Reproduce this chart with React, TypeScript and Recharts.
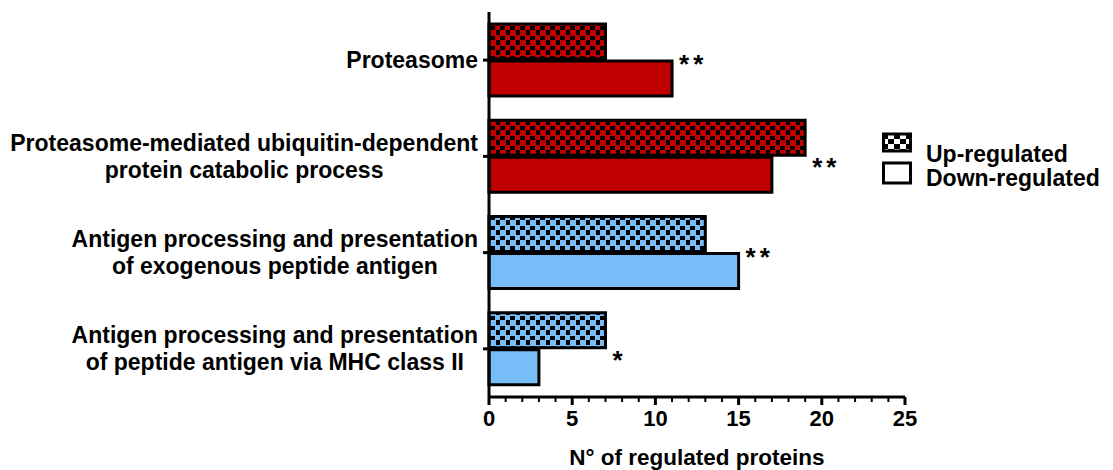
import { Bar, BarChart, Cell, Label, LabelList, XAxis, YAxis } from "recharts";

const categories = [
  "Proteasome",
  "Proteasome-mediated ubiquitin-dependent\nprotein catabolic process",
  "Antigen processing and presentation\nof exogenous peptide antigen",
  "Antigen processing and presentation\nof peptide antigen via MHC class II",
];
const upRegulated = [7, 19, 13, 7];
const downRegulated = [11, 17, 15, 3];
const significance = ["**", "**", "**", "*"];
const seriesNames = ["Up-regulated", "Down-regulated"];
const xTicks = [0, 1, 2, 3, 4, 5, 6, 7, 8, 9, 10, 11, 12, 13, 14, 15, 16, 17, 18, 19, 20, 21, 22, 23, 24, 25];
const xMajorTicks = [0, 5, 10, 15, 20, 25];
const xTitle = "N° of regulated proteins";

const FONT = '"Liberation Sans", Arial, sans-serif';
const RED = "#C00000";
const BLUE = "#77BDF8";
const groupColor = ["red", "red", "blue", "blue"];

const data = categories.map((name, i) => ({
  name,
  up: upRegulated[i],
  down: downRegulated[i],
}));

const ctx = document.createElement("canvas").getContext("2d");
function textWidth(s: string) {
  if (!ctx) return s.length * 11;
  ctx.font = `bold 23px ${FONT}`;
  return ctx.measureText(s).width;
}

function CategoryTick(props: any) {
  const { x, y, payload } = props;
  const lines = String(payload.value).split("\n");
  const w = Math.max(...lines.map(textWidth));
  const cx = x - w / 2;
  const top = y - (lines.length - 1) * 13.5;
  return (
    <g>
      {lines.map((l, i) => (
        <text
          key={i}
          x={cx}
          y={top + i * 27 + 8}
          textAnchor="middle"
          fontFamily={FONT}
          fontWeight="bold"
          fontSize={23}
          fill="#000"
        >
          {l}
        </text>
      ))}
    </g>
  );
}

function CountTick(props: any) {
  const { x, y, payload } = props;
  const major = xMajorTicks.includes(payload.value);
  return (
    <g>
      <line x1={x} x2={x} y1={y} y2={y + (major ? 8 : 5)} stroke="#000" strokeWidth={major ? 3 : 2} />
      {major && (
        <text x={x} y={y + 29} textAnchor="middle" fontFamily={FONT} fontWeight="bold" fontSize={22} fill="#000">
          {payload.value}
        </text>
      )}
    </g>
  );
}

// stars sit beside whichever bar of the pair is longer
const makeStar = (series: "up" | "down") => (props: any) => {
  const { x, y, width, height, index } = props;
  const longer = upRegulated[index] >= downRegulated[index] ? "up" : "down";
  if (longer !== series) return null;
  const cy = series === "up" ? y + height + 6 : y - 3;
  return (
    <text
      key={`star-${series}-${index}`}
      x={x + width + 7}
      y={cy + 15}
      fontFamily={FONT}
      fontWeight="bold"
      fontSize={26}
      letterSpacing={4}
      fill="#000"
    >
      {significance[index]}
    </text>
  );
};

function LegendBox() {
  return (
    <svg width={229} height={62} style={{ display: "block" }}>
      <defs>
        <pattern id="chk-bw" width="12" height="10" patternUnits="userSpaceOnUse">
          <rect width="12" height="10" fill="#000" />
          <rect x="0" y="0" width="6" height="5" fill="#fff" />
          <rect x="6" y="5" width="6" height="5" fill="#fff" />
        </pattern>
      </defs>
      <rect x={1.5} y={5} width={27} height={17} fill="url(#chk-bw)" stroke="#000" strokeWidth={3} />
      <rect x={1.5} y={34} width={27} height={20} fill="#fff" stroke="#000" strokeWidth={3} />
      <text x={44} y={33} fontFamily={FONT} fontWeight="bold" fontSize={23} fill="#000">
        {seriesNames[0]}
      </text>
      <text x={44} y={57} fontFamily={FONT} fontWeight="bold" fontSize={23} fill="#000">
        {seriesNames[1]}
      </text>
    </svg>
  );
}

export default function App() {
  return (
    <div style={{ position: "absolute", left: 0, top: 0, width: 1113, height: 470, background: "#fff" }}>
      <BarChart
        width={1113}
        height={470}
        data={data}
        layout="vertical"
        margin={{ top: 12, right: 208, bottom: 0, left: 0 }}
        barCategoryGap="12.5%"
        barGap={2}
      >
        <defs>
          <pattern id="chk-red" width="10" height="10" patternUnits="userSpaceOnUse">
            <rect width="10" height="10" fill="#000" />
            <rect x="0" y="0" width="6" height="6" fill={RED} />
            <rect x="5" y="5" width="5" height="5" fill={RED} />
          </pattern>
          <pattern id="chk-blue" width="10" height="10" patternUnits="userSpaceOnUse">
            <rect width="10" height="10" fill="#000" />
            <rect x="0" y="0" width="6" height="6" fill={BLUE} />
            <rect x="5" y="5" width="5" height="5" fill={BLUE} />
          </pattern>
        </defs>
        <XAxis
          type="number"
          domain={[0, 25]}
          ticks={xTicks}
          interval={0}
          height={73}
          tickSize={0}
          tickMargin={0}
          tickLine={false}
          axisLine={{ stroke: "#000", strokeWidth: 3 }}
          tick={<CountTick />}
        >
          <Label
            value={xTitle}
            position="insideBottom"
            offset={5}
            style={{ fontFamily: FONT, fontWeight: "bold", fontSize: 22.5, fill: "#000" }}
          />
        </XAxis>
        <YAxis
          type="category"
          dataKey="name"
          width={489}
          tickSize={6}
          tickMargin={5}
          interval={0}
          axisLine={{ stroke: "#000", strokeWidth: 3 }}
          tickLine={{ stroke: "#000", strokeWidth: 3 }}
          tick={<CategoryTick />}
        />
        <Bar dataKey="up" name={seriesNames[0]} stroke="#000" strokeWidth={3} isAnimationActive={false}>
          {data.map((_, i) => (
            <Cell key={i} fill={groupColor[i] === "red" ? "url(#chk-red)" : "url(#chk-blue)"} />
          ))}
          <LabelList dataKey="up" content={makeStar("up")} />
        </Bar>
        <Bar dataKey="down" name={seriesNames[1]} stroke="#000" strokeWidth={3} isAnimationActive={false}>
          {data.map((_, i) => (
            <Cell key={i} fill={groupColor[i] === "red" ? RED : BLUE} />
          ))}
          <LabelList dataKey="down" content={makeStar("down")} />
        </Bar>
      </BarChart>
      <div style={{ position: "absolute", left: 882, top: 129 }}>
        <LegendBox />
      </div>
    </div>
  );
}
